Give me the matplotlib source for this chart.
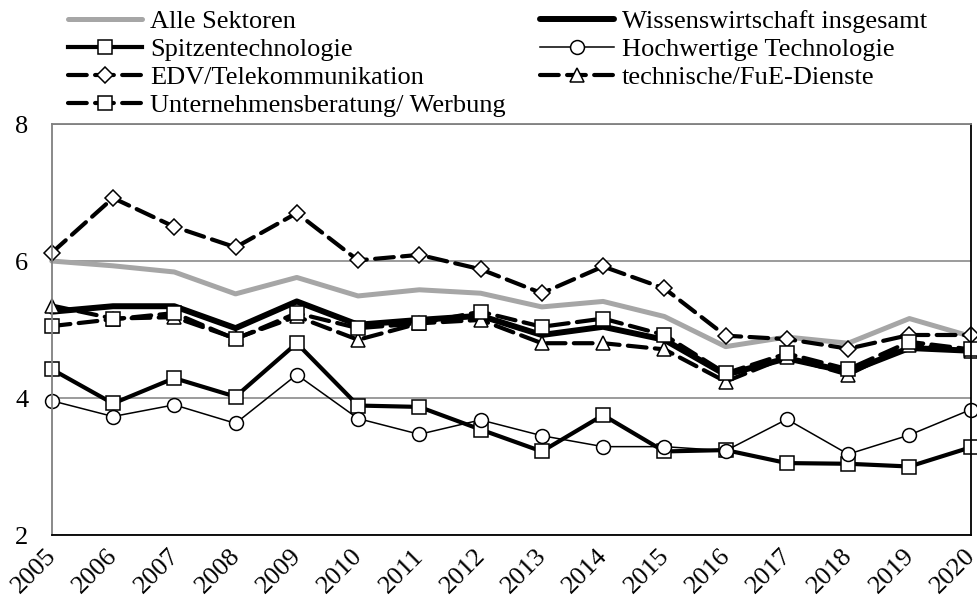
import matplotlib
matplotlib.use("Agg")
import matplotlib.pyplot as plt
import matplotlib.transforms as mtransforms

plt.rcParams['font.family'] = ['Liberation Serif', 'DejaVu Serif']

years = list(range(2005, 2021))
alle = [6.00, 5.93, 5.84, 5.52, 5.76, 5.49, 5.58, 5.53, 5.33, 5.41, 5.19, 4.75, 4.89, 4.80, 5.16, 4.90]
wissen = [5.26, 5.34, 5.34, 5.02, 5.41, 5.07, 5.14, 5.20, 4.92, 5.04, 4.85, 4.34, 4.58, 4.38, 4.73, 4.69]
spitzen = [4.42, 3.92, 4.29, 4.02, 4.80, 3.89, 3.87, 3.54, 3.22, 3.75, 3.22, 3.24, 3.05, 3.04, 3.00, 3.28]
hochwertig = [3.96, 3.73, 3.90, 3.63, 4.34, 3.70, 3.47, 3.68, 3.45, 3.29, 3.29, 3.23, 3.69, 3.18, 3.46, 3.83]
edv = [6.12, 6.92, 6.50, 6.20, 6.70, 6.01, 6.09, 5.88, 5.53, 5.92, 5.60, 4.91, 4.86, 4.72, 4.92, 4.92]
technisch = [5.35, 5.16, 5.18, 4.87, 5.19, 4.85, 5.09, 5.14, 4.80, 4.80, 4.71, 4.24, 4.60, 4.34, 4.78, 4.68]
beratung = [5.05, 5.15, 5.24, 4.86, 5.24, 5.02, 5.09, 5.26, 5.04, 5.16, 4.92, 4.36, 4.65, 4.42, 4.82, 4.71]

labels = ["Alle Sektoren", "Wissenswirtschaft insgesamt", "Spitzentechnologie",
          "Hochwertige Technologie", "EDV/Telekommunikation", "technische/FuE-Dienste",
          "Unternehmensberatung/ Werbung"]
yticks = [2, 4, 6, 8]

fig = plt.figure(figsize=(9.78, 6.05), dpi=100)
ax = fig.add_axes([0.0529, 0.1157, 0.9396, 0.6793])

mk = dict(markerfacecolor='white', markeredgecolor='black', markeredgewidth=1.1, clip_on=False)
dash = (4.5, 2)

h_alle, = ax.plot(years, alle, color='#a6a6a6', lw=3.6, solid_capstyle='round', clip_on=False)
h_wis, = ax.plot(years, wissen, color='black', lw=4.3, solid_capstyle='round', clip_on=False)
h_spi, = ax.plot(years, spitzen, color='black', lw=3.0, marker='s', markersize=10, **mk)
h_hoc, = ax.plot(years, hochwertig, color='black', lw=1.1, marker='o', markersize=10, **mk)
h_edv, = ax.plot(years, edv, color='black', lw=3.0, dashes=dash, dash_capstyle='round',
                 marker='D', markersize=8, **mk)
h_tec, = ax.plot(years, technisch, color='black', lw=3.0, dashes=dash, dash_capstyle='round',
                 marker='^', markersize=10, **mk)
h_ber, = ax.plot(years, beratung, color='black', lw=3.0, dashes=dash, dash_capstyle='round',
                 marker='s', markersize=10, **mk)

ax.set_xlim(2005, 2020)
ax.set_ylim(2, 8)
ax.set_yticks(yticks)
ax.set_xticks(years)
ax.tick_params(axis='both', length=0, labelsize=19)
ax.tick_params(axis='y', pad=17)
ax.set_xticklabels([str(y) for y in years], rotation=45, ha='right', va='top')
offset = mtransforms.ScaledTranslation(9/100, -5/100, fig.dpi_scale_trans)
for lab in ax.get_xticklabels():
    lab.set_transform(lab.get_transform() + offset)

ax.grid(axis='y', color='#808080', lw=1.1)
ax.set_axisbelow(True)
ax.spines['left'].set_color('#808080')
ax.spines['top'].set_color('#808080')
ax.spines['bottom'].set_color('black')
ax.spines['right'].set_color('black')
for s in ax.spines.values():
    s.set_linewidth(1.3)

handles = [h_alle, h_spi, h_edv, h_ber, h_wis, h_hoc, h_tec]
leg_labels = [labels[0], labels[2], labels[4], labels[6], labels[1], labels[3], labels[5]]
fig.legend(handles, leg_labels, loc='upper left', bbox_to_anchor=(0.067, 0.988),
           ncol=2, frameon=False, fontsize=19, handlelength=2.8, handletextpad=0.3,
           labelspacing=0.17, columnspacing=1.3, borderpad=0.1, borderaxespad=0)

fig.savefig("out.png", dpi=100)
